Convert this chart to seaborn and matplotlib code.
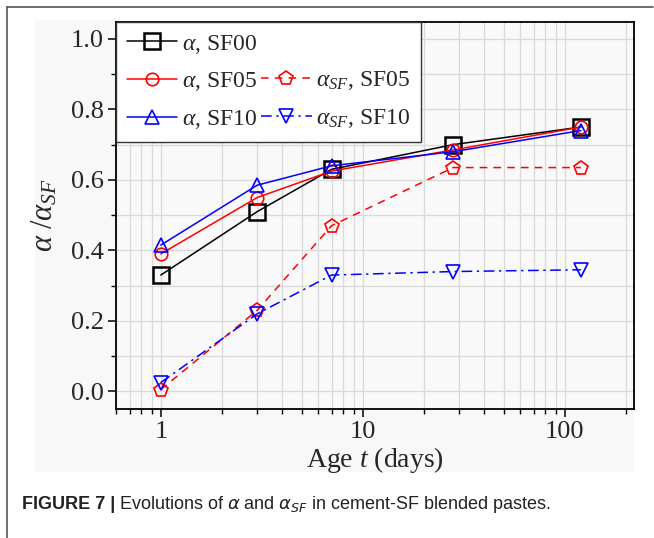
import numpy as np
import pandas as pd
import matplotlib
matplotlib.use("Agg")
import matplotlib.pyplot as plt
import seaborn as sns
from matplotlib.lines import Line2D
from matplotlib.patches import Rectangle
from matplotlib.ticker import LogLocator, MultipleLocator, FixedLocator, NullFormatter

# ---- data ----
age_days = [1, 3, 7, 28, 120]
alpha_sf00 = [0.33, 0.51, 0.63, 0.70, 0.75]
alpha_sf05 = [0.39, 0.55, 0.625, 0.685, 0.75]
alpha_sf10 = [0.415, 0.585, 0.64, 0.68, 0.74]
alpha_sf_sf05 = [0.005, 0.23, 0.47, 0.635, 0.635]
alpha_sf_sf10 = [0.025, 0.22, 0.33, 0.34, 0.345]
x_ticks = [1, 10, 100]
x_tick_labels = ["1", "10", "100"]
y_ticks = [0.0, 0.2, 0.4, 0.6, 0.8, 1.0]
y_tick_labels = ["0.0", "0.2", "0.4", "0.6", "0.8", "1.0"]

sns.set_theme(style="white")
plt.rcParams["font.family"] = ["Liberation Serif", "DejaVu Serif"]
plt.rcParams["mathtext.fontset"] = "custom"
plt.rcParams["mathtext.rm"] = "Liberation Serif"
plt.rcParams["mathtext.it"] = "Liberation Serif:italic"
plt.rcParams["mathtext.bf"] = "Liberation Serif:bold"

W, H = 654, 538
fig = plt.figure(figsize=(W / 100, H / 100), dpi=100)
fig.patch.set_facecolor("white")

# gray panel behind the chart
fig.patches.append(Rectangle((35 / W, 1 - 472 / H), (634 - 35) / W, (472 - 20) / H,
                             transform=fig.transFigure, facecolor="#f8f8f8",
                             edgecolor="none", zorder=-10))
# frame lines (top and left)
fig.add_artist(Line2D([7 / W, 653 / W], [1 - 7 / H, 1 - 7 / H], transform=fig.transFigure,
                      color="#555555", lw=1.2))
fig.add_artist(Line2D([7 / W, 7 / W], [1 - 7 / H, 0], transform=fig.transFigure,
                      color="#555555", lw=1.2))

left, right, top, bottom = 116, 634, 22, 409
ax = fig.add_axes([left / W, 1 - bottom / H, (right - left) / W, (bottom - top) / H])
ax.set_facecolor("#f9f9f9")

series = [
    (alpha_sf00, r"$\alpha$, SF00", "black", "-", "s", 12),
    (alpha_sf05, r"$\alpha$, SF05", "red", "-", "o", 9),
    (alpha_sf10, r"$\alpha$, SF10", "blue", "-", "^", 10.5),
    (alpha_sf_sf05, r"$\alpha_{SF}$, SF05", "red", (0, (5, 4)), "p", 10.5),
    (alpha_sf_sf10, r"$\alpha_{SF}$, SF10", "blue", (0, (7, 3, 1.5, 3)), "v", 10.5),
]
for vals, lab, col, ls, mk, ms in series:
    df = pd.DataFrame({"age": age_days, "val": vals})
    sns.lineplot(data=df, x="age", y="val", ax=ax, color=col, linestyle=ls, lw=1.1,
                 marker=mk, markersize=ms, markerfacecolor="none", markeredgecolor=col,
                 markeredgewidth=1.8 if mk == "s" else 1.2, label=lab, zorder=5)

ax.set_xscale("log")
ax.set_xlim(0.6, 220)
ax.set_ylim(-0.05, 1.048)
ax.xaxis.set_major_locator(FixedLocator(x_ticks))
ax.set_xticklabels(x_tick_labels)
ax.xaxis.set_minor_locator(LogLocator(base=10, subs=np.arange(2, 10)))
ax.xaxis.set_minor_formatter(NullFormatter())
ax.set_yticks(y_ticks)
ax.set_yticklabels(y_tick_labels)
ax.yaxis.set_minor_locator(MultipleLocator(0.1))

ax.grid(True, which="both", color="#d9d9d9", lw=0.9, zorder=0)
ax.set_axisbelow(True)
for s in ax.spines.values():
    s.set_color("black")
    s.set_linewidth(1.3)
ax.tick_params(axis="both", which="major", direction="out", length=6, width=1.1,
               color="black", labelsize=19, pad=3, left=True, bottom=True)
ax.tick_params(axis="both", which="minor", direction="out", length=3.5, width=1.0,
               color="black", left=True, bottom=True)

ax.set_xlabel(r"Age $t$ (days)", fontsize=20, labelpad=1)
ax.set_ylabel(r"$\alpha\ /\alpha_{SF}$", fontsize=22, labelpad=8)

handles, labels = ax.get_legend_handles_labels()
blank = Line2D([], [], color="none")
order_h = [handles[0], handles[1], handles[2], blank, handles[3], handles[4]]
order_l = [labels[0], labels[1], labels[2], "", labels[3], labels[4]]
leg = ax.legend(order_h, order_l, ncol=2, loc="upper left", bbox_to_anchor=(0, 1),
                fontsize=17, frameon=True, fancybox=False, framealpha=1,
                edgecolor="#333333", handlelength=2.15, handletextpad=0.2,
                columnspacing=0.15, borderpad=0.45, labelspacing=0.62, borderaxespad=0)
leg.get_frame().set_linewidth(1.0)
leg.set_zorder(10)

# caption
fig.canvas.draw()
r = fig.canvas.get_renderer()
t1 = fig.text(22 / W, 1 - 509 / H, "FIGURE 7 |", fontsize=13, fontweight="bold",
              family=["Liberation Sans", "DejaVu Sans"], color="#222222", va="baseline")
bb = t1.get_window_extent(renderer=r)
x2 = (bb.x1 + 4) / W
fig.text(x2, 1 - 509 / H, r"Evolutions of $\alpha$ and $\alpha_{SF}$ in cement-SF blended pastes.",
         fontsize=13, family=["Liberation Sans", "DejaVu Sans"], color="#222222",
         va="baseline", math_fontfamily="dejavusans")

fig.savefig("out.png", dpi=100)
